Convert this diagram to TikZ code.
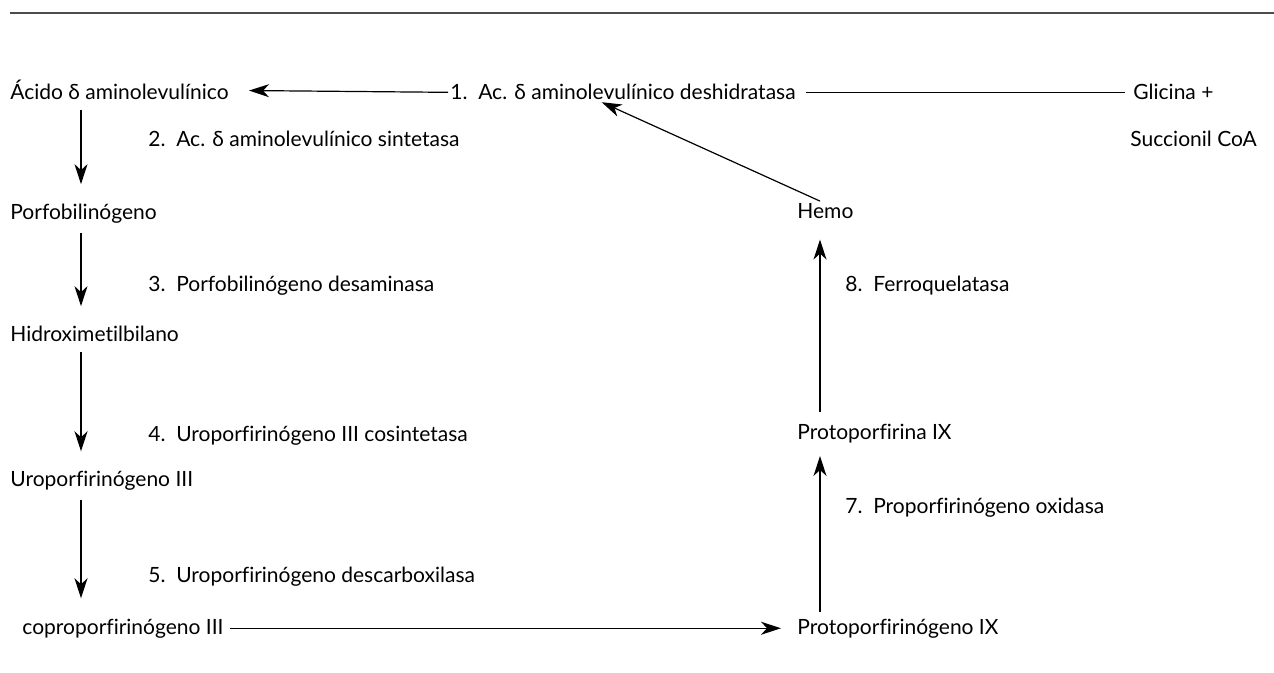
\documentclass[tikz,border=0pt]{standalone}
\usepackage{fontspec}
\setmainfont{Lato}[Ligatures=NoCommon]
\usetikzlibrary{arrows.meta}

\begin{document}
\begin{tikzpicture}[x=0.5pt,y=-0.5pt,>={Stealth[length=10pt,width=6.5pt,inset=3pt]},
 met/.style={anchor=base west,inner sep=0pt,font=\fontsize{10.5}{12}\selectfont},
 enz/.style={met},
 flow/.style={->,line width=0.6pt}]
\useasboundingbox (0,0) rectangle (1274,673);
% rule on top
\coordinate (rl) at (10,13);
\coordinate (rr) at (1274,13);
\draw[line width=1.3pt,black!70] (rl) -- (rr);
% left column
\node[met] (ala) at (10,100) {Ácido δ aminolevulínico};
\node[met] (pbg) at (10,220) {Porfobilinógeno};
\node[met] (hmb) at (10,342) {Hidroximetilbilano};
\node[met] (uro) at (10,487) {Uroporfirinógeno III};
\node[met] (copro) at (22,634) {coproporfirinógeno III};
% right column
\node[met] (ppgen) at (797,634) {Protoporfirinógeno IX};
\node[met] (ppix) at (797,440) {Protoporfirina IX};
\node[met] (hemo) at (797,219) {Hemo};
\node[met] (gli) at (1133,100) {Glicina +};
\node[met] (suc) at (1130,147) {Succionil CoA};
% enzymes
\node[enz] (e1) at (450,100) {1.\ \ Ac. δ aminolevulínico deshidratasa};
\node[enz] (e2) at (148,147) {2.\ \ Ac. δ aminolevulínico sintetasa};
\node[enz] (e3) at (148,292) {3.\ \ Porfobilinógeno desaminasa};
\node[enz] (e4) at (148,442) {4.\ \ Uroporfirinógeno III cosintetasa};
\node[enz] (e5) at (148,582) {5.\ \ Uroporfirinógeno descarboxilasa};
\node[enz] (e7) at (845,513) {7.\ \ Proporfirinógeno oxidasa};
\node[enz] (e8) at (845,292) {8.\ \ Ferroquelatasa};
% arrows
\coordinate (cl) at (81,0);
\coordinate (cr) at (820,0);
\draw[line width=0.6pt,shorten <=5pt,shorten >=4pt] (e1.east) -- (gli.west);
\draw[flow,shorten <=1pt,shorten >=10pt] (e1.west) -- (ala.east);
\draw[flow,shorten <=4.5pt,shorten >=10pt] (cl |- ala.south) -- (cl |- pbg.north);
\draw[flow,shorten <=4.5pt,shorten >=10pt] (cl |- pbg.south) -- (cl |- hmb.north);
\draw[flow,shorten <=4.5pt,shorten >=10pt] (cl |- hmb.south) -- (cl |- uro.north);
\draw[flow,shorten <=4.5pt,shorten >=10pt] (cl |- uro.south) -- (cl |- copro.north);
\draw[flow,shorten <=3pt,shorten >=8pt] (copro.east) -- (ppgen.west);
\draw[flow,shorten <=3pt,shorten >=6pt] (cr |- ppgen.north) -- (cr |- ppix.south);
\draw[flow,shorten <=6pt,shorten >=10pt] (cr |- ppix.north) -- (cr |- hemo.south);
\draw[flow,shorten <=3pt,shorten >=2pt] (hemo.north) -- ([xshift=-12.5pt]e1.south);
\end{tikzpicture}
\end{document}
